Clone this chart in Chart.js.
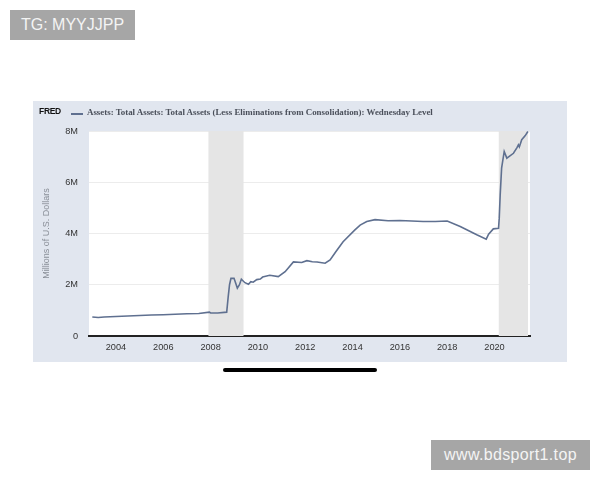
<!DOCTYPE html>
<html>
<head>
<meta charset="utf-8">
<title>Total Assets</title>
<script src="https://cdn.jsdelivr.net/npm/chart.js@4/dist/chart.umd.min.js"></script>
<style>
  html, body { margin: 0; padding: 0; background: #fff; }
  body { position: relative; width: 600px; height: 480px; overflow: hidden; font-family: "Liberation Sans", Arial, sans-serif; }
  .tag { position: absolute; background: #a6a6a6; color: #f4f4f4; font-size: 16px; line-height: 30px; height: 30px; text-align: center; }
  #tag1 { left: 10px; top: 10px; width: 125px; }
  #tag2 { left: 431px; top: 440px; width: 159px; letter-spacing: 0.35px; }
  #panel { position: absolute; left: 33px; top: 101px; width: 534px; height: 261px; background: #e1e6ef; }
  #panel canvas { position: absolute; left: 0; top: 0; }
  #fred { position: absolute; left: 6px; top: 5px; font-size: 8.5px; font-weight: bold; color: #111; letter-spacing: -0.3px; }
  #swatch { position: absolute; left: 38px; top: 12px; width: 12px; height: 1.5px; background: #5f7090; }
  #legend { position: absolute; left: 54px; top: 6px; font-family: "Liberation Serif", serif; font-weight: bold; font-size: 8.9px; color: #4a4f5a; white-space: nowrap; }
  #homebar { position: absolute; left: 223px; top: 368px; width: 154px; height: 4px; border-radius: 2px; background: #000; }
</style>
</head>
<body>
<div class="tag" id="tag1">TG: MYYJJPP</div>
<div id="panel">
  <canvas id="graphique" width="534" height="261"></canvas>
  <div id="fred">FRED</div>
  <div id="swatch"></div>
  <div id="legend">Assets: Total Assets: Total Assets (Less Eliminations from Consolidation): Wednesday Level</div>
</div>
<div id="homebar"></div>
<div class="tag" id="tag2">www.bdsport1.top</div>
<script>
// valeurs
const assetYears = [2003.0, 2003.25, 2003.5, 2004.0, 2004.5, 2005.0, 2005.5, 2006.0, 2006.5, 2007.0, 2007.5, 2007.95, 2008.0, 2008.3, 2008.68,
  2008.74, 2008.8, 2008.86, 2008.99, 2009.13, 2009.22, 2009.3, 2009.45, 2009.6, 2009.7, 2009.8, 2009.95, 2010.1, 2010.2, 2010.5, 2010.86, 2011.15, 2011.5,
  2011.85, 2012.07, 2012.3, 2012.5, 2012.84, 2013.05, 2013.3, 2013.6, 2014.1, 2014.32, 2014.6, 2014.95, 2015.5, 2016.0, 2016.5, 2016.98,
  2017.5, 2018.0, 2018.55, 2019.25, 2019.65, 2019.75, 2019.95, 2020.17, 2020.2, 2020.24, 2020.3, 2020.41, 2020.52, 2020.8,
  2020.95, 2021.01, 2021.05, 2021.15, 2021.3, 2021.41];
const assetValues = [0.74, 0.72, 0.74, 0.76, 0.78, 0.8, 0.82, 0.83, 0.85, 0.87, 0.88, 0.93, 0.9, 0.9, 0.93,
  1.5, 2.0, 2.25, 2.25, 1.87, 2.0, 2.22, 2.08, 2.02, 2.12, 2.1, 2.2, 2.22, 2.3, 2.37, 2.32, 2.51, 2.89,
  2.87, 2.94, 2.9, 2.89, 2.84, 2.97, 3.3, 3.68, 4.14, 4.33, 4.47, 4.54, 4.5, 4.51, 4.49, 4.47,
  4.47, 4.49, 4.27, 3.95, 3.78, 3.97, 4.18, 4.2, 4.6, 5.5, 6.55, 7.2, 6.94, 7.13,
  7.35, 7.46, 7.38, 7.66, 7.82, 7.98];
const recessionStarts = [2007.9, 2020.17];
const recessionEnds = [2009.4, 2021.42];
const xTicks = [2004, 2006, 2008, 2010, 2012, 2014, 2016, 2018, 2020];
const yTicks = [0, 2, 4, 6, 8];

const recessions = recessionStarts.map((debut, i) => ({
  data: [{ x: debut, y: 8 }, { x: recessionEnds[i], y: 8 }],
  borderWidth: 0,
  pointRadius: 0,
  backgroundColor: "#e5e5e5",
  fill: "origin",
  order: 2,
}));

// fond blanc de la zone de tracé
const fondBlanc = {
  id: "fondBlanc",
  beforeDraw(chart) {
    const a = chart.chartArea;
    chart.ctx.fillStyle = "#fff";
    chart.ctx.fillRect(a.left, a.top, a.width, a.height);
  },
};

new Chart(document.querySelector("#graphique"), {
  type: "line",
  data: {
    datasets: [
      {
        data: assetYears.map((annee, i) => ({ x: annee, y: assetValues[i] })),
        borderColor: "#5f7090",
        borderWidth: 1.6,
        pointRadius: 0,
        tension: 0,
        order: 1,
      },
      ...recessions,
    ],
  },
  plugins: [fondBlanc],
  options: {
    responsive: false,
    animation: false,
    layout: { padding: { top: 30, right: 37, bottom: 0, left: 0 } },
    plugins: { legend: { display: false }, tooltip: { enabled: false } },
    scales: {
      x: {
        type: "linear",
        min: 2002.86,
        max: 2021.5,
        afterBuildTicks: (axis) => { axis.ticks = xTicks.map((v) => ({ value: v })); },
        afterFit: (axis) => { axis.height = 26; },
        grid: { display: false, drawTicks: false },
        border: { color: "#222", width: 2 },
        ticks: {
          maxRotation: 0,
          autoSkip: false,
          padding: 6,
          color: "#333",
          font: { family: "Liberation Sans", size: 9.2 },
          callback: (v) => String(v),
        },
      },
      y: {
        min: 0,
        max: 8,
        afterBuildTicks: (axis) => { axis.ticks = yTicks.map((v) => ({ value: v })); },
        afterFit: (axis) => { axis.width = 56; },
        grid: { color: "#ececec", lineWidth: 1, drawTicks: false },
        border: { display: false },
        title: {
          display: true,
          text: "Millions of U.S. Dollars",
          color: "#8a8f98",
          padding: { top: 8, bottom: 0 },
          font: { family: "Liberation Sans", size: 9 },
        },
        ticks: {
          padding: 11,
          color: "#333",
          font: { family: "Liberation Sans", size: 9.2 },
          callback: (v) => (v === 0 ? "0" : v + "M"),
        },
      },
    },
  },
});
</script>
</body>
</html>
